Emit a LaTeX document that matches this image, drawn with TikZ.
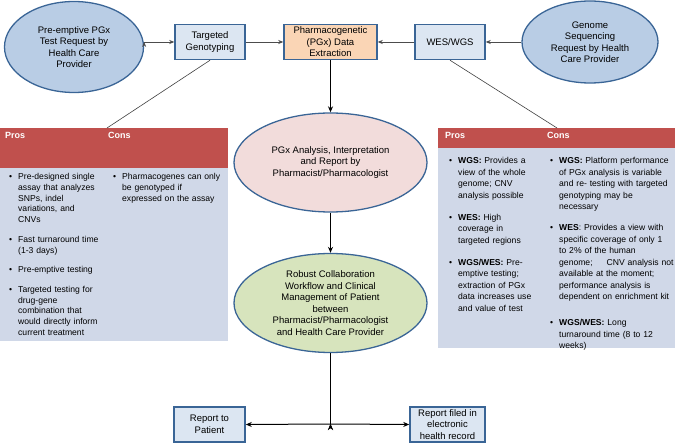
\documentclass[tikz,border=0pt]{standalone}
\usepackage{fontspec}
\setmainfont{Liberation Sans}
\usepackage{enumitem}
\usetikzlibrary{shapes.geometric,arrows.meta}
\definecolor{reqblue}{HTML}{B9CDE5}
\definecolor{edgeblue}{HTML}{3A6596}
\definecolor{boxblue}{HTML}{DCE6F2}
\definecolor{pgxorange}{HTML}{FAD5B5}
\definecolor{anapink}{HTML}{F2DCDB}
\definecolor{collgreen}{HTML}{D7E4BD}
\definecolor{headred}{HTML}{C0504D}
\definecolor{tabblue}{HTML}{D0D8E8}
\setlist[itemize]{label=\textbullet,leftmargin=11pt,labelsep=6pt,topsep=0pt,partopsep=0pt,parsep=0pt,itemsep=9pt}
\newcommand{\tabfont}{\fontsize{8.6}{10.7}\selectfont}
\newcommand{\tabfontr}{\fontsize{8.6}{11.5}\selectfont}
\begin{document}
\begin{tikzpicture}[x=1pt,y=-1pt,
    every node/.style={font=\fontsize{9.5}{11.5}\selectfont,align=center,inner sep=0pt},
    reqnode/.style={ellipse,draw=edgeblue,line width=1.3pt,fill=reqblue},
    boxnode/.style={rectangle,draw=edgeblue,line width=1.5pt,fill=boxblue,minimum width=70pt,minimum height=35pt},
    stepnode/.style={ellipse,draw=edgeblue,line width=1.3pt,minimum width=193pt,minimum height=99pt},
    headtext/.style={anchor=west,text=white,font=\fontsize{9}{11}\selectfont\bfseries},
    coltext/.style={anchor=north west,align=left},
    thinarrow/.style={-{Stealth[length=5pt,width=4pt]},draw=black!70,line width=0.7pt},
    thickarrow/.style={-{Stealth[length=6pt,width=5pt]},draw=black,line width=1pt},
    thinline/.style={-,draw=black!75,line width=0.6pt}]
    \useasboundingbox (0,0) rectangle (675,443);
    % top row
    \node[reqnode,minimum width=139pt,minimum height=91pt] (lreq) at (74,47) {Pre-emptive PGx\\Test Request by\\Health Care\\Provider};
    \node[boxnode] (tg) at (210,42) {Targeted\\Genotyping};
    \node[boxnode,fill=pgxorange,minimum width=93pt] (pgx) at (330.5,42) {Pharmacogenetic\\(PGx) Data\\Extraction};
    \node[boxnode] (wes) at (450,42) {WES/WGS};
    \node[reqnode,minimum width=136pt,minimum height=82pt] (rreq) at (590,42) {Genome\\Sequencing\\Request by Health\\Care Provider};
    % middle column
    \node[stepnode,fill=anapink] (ana) at (330.5,162.5) {PGx Analysis, Interpretation\\and Report by\\Pharmacist/Pharmacologist};
    \node[stepnode,fill=collgreen] (coll) at (330.5,303) {Robust Collaboration\\Workflow and Clinical\\Management of Patient\\between\\Pharmacist/Pharmacologist\\and Health Care Provider};
    % bottom row
    \node[boxnode,minimum width=71pt,minimum height=35pt] (rpt) at (209.5,424.5) {Report to\\Patient};
    \node[boxnode,minimum width=75pt,minimum height=35pt] (ehr) at (447.5,424.5) {Report filed in\\electronic\\health record};
    \coordinate (split) at (330.5,424);
    % left table
    \fill[headred] (0,128) rectangle (228,168);
    \fill[tabblue] (0,168) rectangle (228,341);
    \coordinate (lhook) at (107,128);
    \node[headtext] (lpros) at (5,135) {Pros};
    \node[headtext] (lcons) at (108,135) {Cons};
    \node[coltext,text width=98pt,font=\tabfont] (lprolist) at (7,169) {%
        \begin{itemize}
        \item Pre-designed single\newline assay that analyzes\newline SNPs, indel\newline variations, and\newline CNVs
        \item Fast turnaround time\newline (1-3 days)
        \item Pre-emptive testing
        \item Targeted testing for\newline drug-gene\newline combination that\newline would directly inform\newline current treatment
        \end{itemize}};
    \node[coltext,text width=115pt,font=\tabfont] (lconlist) at (111,169) {%
        \begin{itemize}
        \item Pharmacogenes can only\newline be genotyped if\newline expressed on the assay
        \end{itemize}};
    % right table
    \fill[headred] (438,128) rectangle (675,148);
    \fill[tabblue] (438,148) rectangle (675,348);
    \coordinate (rhook) at (557,128);
    \node[headtext] (rpros) at (445,135) {Pros};
    \node[headtext] (rcons) at (547,135) {Cons};
    \node[coltext,text width=100pt,font=\tabfontr] (rprolist) at (447,152) {%
        \begin{itemize}[itemsep=10.5pt]
        \item \textbf{WGS:} Provides a\newline view of the whole\newline genome; CNV\newline analysis possible
        \item \textbf{WES:} High\newline coverage in\newline targeted regions
        \item \textbf{WGS/WES:} Pre-\newline emptive testing;\newline extraction of PGx\newline data increases use\newline and value of test
        \end{itemize}};
    \node[coltext,text width=140pt,font=\tabfontr] (rconlist) at (548,152) {%
        \begin{itemize}[itemsep=9.5pt]
        \item \textbf{WGS:} Platform performance\newline of PGx analysis is variable\newline and re- testing with targeted\newline genotyping may be\newline necessary
        \item \textbf{WES}: Provides a view with\newline specific coverage of only 1\newline to 2\% of the human\newline genome;\hspace{14pt}CNV analysis not\newline available at the moment;\newline performance analysis is\newline dependent on enrichment kit
        \vspace{5pt}
        \item \textbf{WGS/WES:} Long\newline turnaround time (8 to 12\newline weeks)
        \end{itemize}};
    % connectors
    \path [thinarrow] (tg.west -| lreq.east) edge (tg.west);
    \path [thinarrow] (tg) edge (pgx);
    \path [thinarrow] (wes) edge (pgx);
    \path [thinarrow] (rreq) edge (wes);
    \path [thickarrow] (pgx) edge (ana);
    \path [thickarrow] (ana) edge (coll);
    \path [thinline] (tg.south) edge (lhook);
    \path [thinline] (wes.south) edge (rhook);
    \draw [line width=1pt] (coll.south) -- (split);
    \path [thickarrow] (split) edge (rpt.east);
    \path [thickarrow] (split) edge (ehr.west);
\end{tikzpicture}
\end{document}
